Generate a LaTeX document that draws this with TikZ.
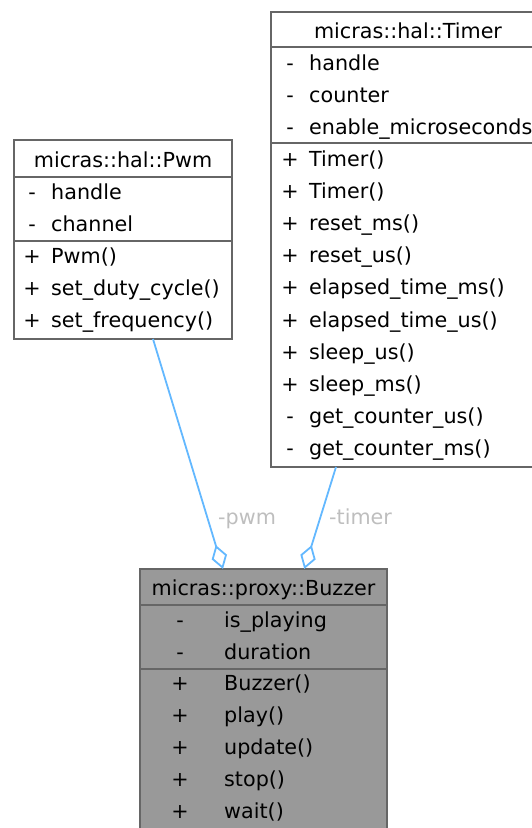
\documentclass[tikz,border=0pt]{standalone}
\usepackage{fontspec}
\setmainfont{DejaVu Sans}
\usepackage{xcolor}
\usepackage{tikz}
\usetikzlibrary{arrows.meta,positioning}
\definecolor{clsline}{HTML}{666666}
\definecolor{clsfill}{HTML}{999999}
\definecolor{aggblue}{HTML}{63B8FF}
\definecolor{lblgray}{HTML}{BEBEBE}

\begin{document}
\begin{tikzpicture}[x=1pt,y=-1pt,
  font=\fontsize{20.7}{32.2}\selectfont,
  cls/.style={draw=clsline,fill=white,line width=2pt,inner sep=0pt,outer sep=0pt,anchor=north west},
  sep/.style={draw=clsline,line width=2pt},
  ttl/.style={anchor=base,inner sep=0pt},
  vis/.style={anchor=base,align=center,inner sep=0pt},
  mem/.style={anchor=base west,align=left,inner sep=0pt},
  agg/.style={draw=aggblue,line width=1.8pt,{Diamond[open,length=25pt,width=16pt]}-},
  lbl/.style={lblgray,anchor=base west,inner sep=0pt}]
  \useasboundingbox (0,0) rectangle (531,828);

  % timer class (lists are placed by the baseline of their last line)
  \node[cls,minimum width=274pt,minimum height=455pt] (timer) at (271,12) {};
  \draw[sep] (271,47) -- (545,47);
  \draw[sep] (271,143) -- (545,143);
  \node[ttl] (timerttl) at (408,38) {micras::hal::Timer};
  \node[vis] (timervis) at (290,134.4) {-\\-\\-};
  \node[mem] (timerattr) at (309,134.4) {handle\\counter\\enable\_microseconds};
  \node[vis] (timeropsvis) at (290,455.8) {+\\+\\+\\+\\+\\+\\+\\+\\-\\-};
  \node[mem] (timerops) at (309,455.8) {Timer()\\Timer()\\reset\_ms()\\reset\_us()\\elapsed\_time\_ms()\\elapsed\_time\_us()\\sleep\_us()\\sleep\_ms()\\get\_counter\_us()\\get\_counter\_ms()};

  % pwm class
  \node[cls,minimum width=218pt,minimum height=199pt] (pwm) at (14,140) {};
  \draw[sep] (14,177) -- (232,177);
  \draw[sep] (14,241) -- (232,241);
  \node[ttl] (pwmttl) at (123,167) {micras::hal::Pwm};
  \node[vis] (pwmvis) at (32,231.2) {-\\-};
  \node[mem] (pwmattr) at (51,231.2) {handle\\channel};
  \node[vis] (pwmopsvis) at (32,327.4) {+\\+\\+};
  \node[mem] (pwmops) at (51,327.4) {Pwm()\\set\_duty\_cycle()\\set\_frequency()};

  % buzzer class
  \node[cls,fill=clsfill,minimum width=247pt,minimum height=270pt] (buzzer) at (140,569) {};
  \draw[sep] (140,605) -- (387,605);
  \draw[sep] (140,669) -- (387,669);
  \node[ttl] (buzzerttl) at (263.5,595) {micras::proxy::Buzzer};
  \node[vis] (buzzervis) at (180,659.2) {-\\-};
  \node[mem] (buzzerattr) at (224,659.2) {is\_playing\\duration};
  \node[vis] (buzzeropsvis) at (180,818.8) {+\\+\\+\\+\\+};
  \node[mem] (buzzerops) at (224,818.8) {Buzzer()\\play()\\update()\\stop()\\wait()};

  % aggregations
  \draw[agg] ([xshift=-40.5pt]buzzer.north) -- ([xshift=30pt]pwm.south);
  \draw[agg] ([xshift=40.8pt]buzzer.north) -- ([xshift=-72pt]timer.south);
  \node[lbl] (pwmlbl) at (218,524) {-pwm};
  \node[lbl] (timerlbl) at (329,524) {-timer};
\end{tikzpicture}
\end{document}
